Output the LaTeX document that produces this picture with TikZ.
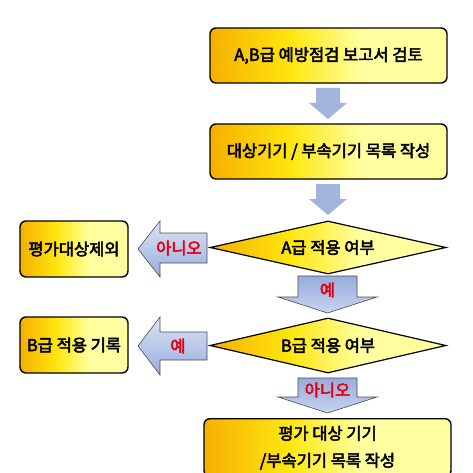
\documentclass[tikz,border=0pt]{standalone}
\usepackage{fontspec}
\newfontfamily\kr[FakeBold=3]{Noto Sans CJK KR}
\usetikzlibrary{shapes.geometric}
\definecolor{cA}{HTML}{F5B000}
\definecolor{cB}{HTML}{FFE60F}
\definecolor{cC}{HTML}{FFFFA0}
\definecolor{arr}{HTML}{A3B5DD}
\definecolor{arrL}{HTML}{DCE4F6}
\definecolor{arrD}{HTML}{98ACDC}
\definecolor{lab}{HTML}{E60012}
\pgfdeclarehorizontalshading{boxshade}{100bp}{color(0bp)=(cA); color(25bp)=(cA); color(42bp)=(cB); color(57bp)=(cC); color(75bp)=(cC); color(100bp)=(cC)}
\tikzset{
  box/.style={draw=black, line width=1.4pt, rounded corners=6pt, shading=boxshade, inner sep=2pt, font=\kr\fontsize{16.5}{27}\selectfont, align=center},
  dia/.style={shape=diamond, aspect=4.45, draw=black, line width=1.2pt, shading=boxshade, inner sep=0pt, font=\kr\fontsize{16.5}{18}\selectfont},
  plainarrow/.style={fill=arr},
  leftarrow/.style={draw=black!70, line width=0.6pt, top color=arrL, bottom color=arrD},
  downarrow/.style={draw=black!70, line width=0.6pt, top color=arrD, bottom color=arrL!70!arrD},
  lbl/.style={text=lab, font=\kr\fontsize{16.5}{18}\selectfont, inner sep=0pt}
}
\begin{document}
\begin{tikzpicture}[x=1pt,y=-1pt]
\clip (0,0) rectangle (473,473);
\fill[white] (0,0) rectangle (473,473);
% boxes
\node[box, minimum width=237pt, minimum height=55pt] (b1) at (328.5,55.5) {A,B급 예방점검 보고서 검토};
\node[box, minimum width=237pt, minimum height=55pt] (b2) at (328.5,151.5) {대상기기 / 부속기기 목록 작성};
\node[dia, minimum width=236pt, minimum height=53pt] (da) at (328,247.5) {A급 적용 여부};
\node[dia, minimum width=236pt, minimum height=55pt] (db) at (328,345.5) {B급 적용 여부};
\node[box, minimum width=108pt, minimum height=56pt] (ex) at (74,249) {평가대상제외};
\node[box, minimum width=108pt, minimum height=56pt] (br) at (74,345) {B급 적용 기록};
\node[box, minimum width=247pt, minimum height=58pt, anchor=north] (fin) at (327.5,418) {평가 대상 기기\\/부속기기 목록 작성};
% plain arrows
\fill[plainarrow] (316,88) -- (340,88) -- (340,103) -- (347,103) -- (328,119) -- (309,103) -- (316,103) -- cycle;
\fill[plainarrow] (316,184) -- (340,184) -- (340,199) -- (347,199) -- (328,215) -- (309,199) -- (316,199) -- cycle;
% left arrows
\path[leftarrow] (207,233) -- (207,263) -- (160,263) -- (160,277) -- (138,249) -- (160,221) -- (160,233) -- cycle;
\node[lbl] (na) at (179,248) {아니오};
\path[leftarrow] (207,332) -- (207,360) -- (160,360) -- (160,375) -- (138,346) -- (160,317) -- (160,332) -- cycle;
\node[lbl] (ya2) at (178,346) {예};
% labelled down arrows
\path[downarrow] (298,276) -- (357,276) -- (357,297) -- (377,297) -- (327.5,313) -- (278,297) -- (298,297) -- cycle;
\node[lbl] (ya1) at (327.5,290) {예};
\path[downarrow] (298,378) -- (357,378) -- (357,397) -- (377,397) -- (327.5,413) -- (278,397) -- (298,397) -- cycle;
\node[lbl] (nb) at (327.5,390) {아니오};
\end{tikzpicture}
\end{document}
